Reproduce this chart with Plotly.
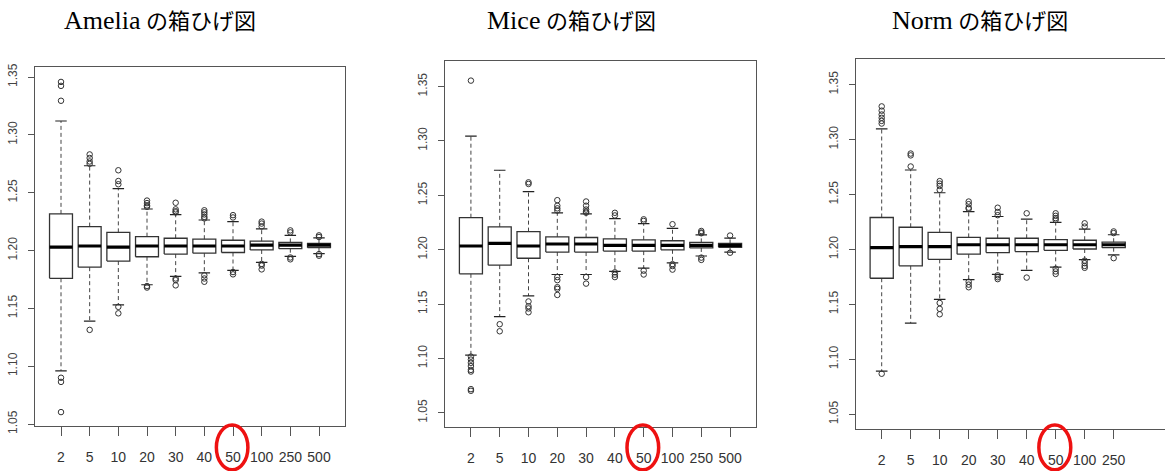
import plotly.graph_objects as go

W, H = 1165, 471

# ---------------- data ----------------
title_names = ["Amelia", "Mice", "Norm"]
title_suffix = "の箱ひげ図"

amelia_labels = ["2", "5", "10", "20", "30", "40", "50", "100", "250", "500"]
amelia_q1 = [1.176, 1.1856, 1.1909, 1.1946, 1.1969, 1.1977, 1.1983, 1.2005, 1.2016, 1.2025]
amelia_med = [1.203, 1.2039, 1.203, 1.2039, 1.2039, 1.2039, 1.2039, 1.2047, 1.2047, 1.2047]
amelia_q3 = [1.2317, 1.2207, 1.2157, 1.212, 1.2106, 1.2098, 1.2089, 1.2081, 1.207, 1.2061]
amelia_lo = [1.096, 1.139, 1.153, 1.1704, 1.1777, 1.1806, 1.1828, 1.1898, 1.1949, 1.1974]
amelia_hi = [1.312, 1.2733, 1.2536, 1.2359, 1.2311, 1.2264, 1.225, 1.2188, 1.2131, 1.2109]
amelia_out = [
    [1.3458, 1.3424, 1.3295, 1.090, 1.0864, 1.0603],
    [1.2831, 1.280, 1.277, 1.275, 1.1314],
    [1.2694, 1.2601, 1.2573, 1.1513, 1.1457],
    [1.2432, 1.241, 1.239, 1.2378, 1.1693, 1.168],
    [1.2413, 1.2356, 1.234, 1.233, 1.1758, 1.1744, 1.1699],
    [1.2348, 1.2331, 1.2312, 1.2291, 1.2278, 1.1786, 1.1758, 1.173],
    [1.2306, 1.2286, 1.1814, 1.1794],
    [1.225, 1.2233, 1.2208, 1.1884, 1.187, 1.1837],
    [1.2174, 1.2157, 1.194, 1.1924],
    [1.2131, 1.2117, 1.1969, 1.1955],
]

mice_labels = ["2", "5", "10", "20", "30", "40", "50", "100", "250", "500"]
mice_q1 = [1.1778, 1.1858, 1.1921, 1.1978, 1.1978, 1.1987, 1.1987, 1.1999, 1.2016, 1.2022]
mice_med = [1.2034, 1.2058, 1.2034, 1.2052, 1.2052, 1.204, 1.204, 1.204, 1.204, 1.204]
mice_q3 = [1.2294, 1.221, 1.2166, 1.2118, 1.2112, 1.21, 1.2091, 1.2082, 1.2067, 1.2058]
mice_lo = [1.1031, 1.1384, 1.1575, 1.1772, 1.1772, 1.1801, 1.1831, 1.1879, 1.1942, 1.1978]
mice_hi = [1.3043, 1.273, 1.2533, 1.2339, 1.233, 1.2285, 1.224, 1.2196, 1.2136, 1.2106]
mice_out = [
    [1.3554, 1.1017, 1.099, 1.096, 1.093, 1.0895, 1.088, 1.0718, 1.0703],
    [1.1315, 1.125],
    [1.2619, 1.2604, 1.1524, 1.148, 1.146, 1.1425],
    [1.2455, 1.2404, 1.238, 1.236, 1.1748, 1.172, 1.1655, 1.164, 1.1584],
    [1.2443, 1.2404, 1.2369, 1.235, 1.234, 1.1748, 1.1688],
    [1.2339, 1.2315, 1.1792, 1.177, 1.1748],
    [1.2279, 1.2264, 1.1807, 1.1772],
    [1.2234, 1.1867, 1.185, 1.1817],
    [1.2172, 1.2158, 1.2151, 1.1927, 1.1906],
    [1.213, 1.1972],
]

norm_labels = ["2", "5", "10", "20", "30", "40", "50", "100", "250"]
norm_q1 = [1.1738, 1.1851, 1.191, 1.1957, 1.1972, 1.1981, 1.1992, 1.2004, 1.2016]
norm_med = [1.2016, 1.2025, 1.2025, 1.2043, 1.2043, 1.2043, 1.2043, 1.2043, 1.2043]
norm_q3 = [1.2291, 1.2202, 1.2155, 1.211, 1.2102, 1.2102, 1.209, 1.2084, 1.2066]
norm_lo = [1.0893, 1.133, 1.1546, 1.1726, 1.1774, 1.1809, 1.1839, 1.1907, 1.1951]
norm_hi = [1.3098, 1.2723, 1.2516, 1.2344, 1.23, 1.2276, 1.2247, 1.2185, 1.2134]
norm_out = [
    [1.3302, 1.3263, 1.3228, 1.3198, 1.317, 1.3146, 1.0869],
    [1.2873, 1.2856, 1.2755],
    [1.2622, 1.2599, 1.2578, 1.2542, 1.1513, 1.146, 1.141],
    [1.2436, 1.2412, 1.238, 1.237, 1.1706, 1.168, 1.1656],
    [1.238, 1.2341, 1.2312, 1.1765, 1.1747, 1.173],
    [1.2329, 1.1744],
    [1.2329, 1.2306, 1.2285, 1.227, 1.1824, 1.18, 1.1777],
    [1.2238, 1.2208, 1.1898, 1.1875, 1.185, 1.1833],
    [1.2164, 1.2149, 1.1921],
]

yticks = [1.05, 1.10, 1.15, 1.20, 1.25, 1.30, 1.35]
highlight = "50"

panels = [
    dict(labels=amelia_labels, q1=amelia_q1, med=amelia_med, q3=amelia_q3,
         lo=amelia_lo, hi=amelia_hi, out=amelia_out),
    dict(labels=mice_labels, q1=mice_q1, med=mice_med, q3=mice_q3,
         lo=mice_lo, hi=mice_hi, out=mice_out),
    dict(labels=norm_labels, q1=norm_q1, med=norm_med, q3=norm_q3,
         lo=norm_lo, hi=norm_hi, out=norm_out),
]

# ---------------- layout geometry (pixels) ----------------
geom = [
    dict(x0=35.2, x1=344.8, y0=65, y1=433, yr=[1.0483, 1.3584], xr=[0.1, 10.9], mirror_y=True, tc=160),
    dict(x0=445, x1=756, y0=58.3, y1=434.3, yr=[1.0368, 1.3736], xr=[0.1, 10.9], mirror_y=True, tc=571),
    dict(x0=855.6, x1=1165, y0=56.7, y1=436, yr=[1.0367, 1.3731], xr=[0.1, 10.77], mirror_y=False, tc=980),
]

FRAME = "#555555"
BOXC = "#333333"
BW = 0.4
CW = 0.2
TICKFONT = "Liberation Sans Narrow, Arial Narrow, Liberation Sans, Arial"

fig = go.Figure()
layout = dict(width=W, height=H, margin=dict(l=0, r=0, t=0, b=0),
              paper_bgcolor="white", plot_bgcolor="white", showlegend=False)
annotations = []
shapes = []

for k, (p, g) in enumerate(zip(panels, geom)):
    sfx = "" if k == 0 else str(k + 1)
    xa, ya = "x" + sfx, "y" + sfx
    n = len(p["labels"])
    pos = list(range(1, n + 1))

    bx, by, mx, my, wx, wy, cx, cy, ox, oy = [], [], [], [], [], [], [], [], [], []
    for i in range(n):
        x = pos[i]
        bx += [x - BW, x + BW, x + BW, x - BW, x - BW, None]
        by += [p["q1"][i], p["q1"][i], p["q3"][i], p["q3"][i], p["q1"][i], None]
        mx += [x - BW, x + BW, None]
        my += [p["med"][i], p["med"][i], None]
        wx += [x, x, None, x, x, None]
        wy += [p["q3"][i], p["hi"][i], None, p["q1"][i], p["lo"][i], None]
        cx += [x - CW, x + CW, None, x - CW, x + CW, None]
        cy += [p["hi"][i], p["hi"][i], None, p["lo"][i], p["lo"][i], None]
        for v in p["out"][i]:
            ox.append(x)
            oy.append(v)

    fig.add_trace(go.Scatter(x=wx, y=wy, mode="lines", xaxis=xa, yaxis=ya,
                             line=dict(color="#444444", width=1, dash="4px,3px"), hoverinfo="skip"))
    fig.add_trace(go.Scatter(x=cx, y=cy, mode="lines", xaxis=xa, yaxis=ya,
                             line=dict(color="#222222", width=1.2), hoverinfo="skip"))
    fig.add_trace(go.Scatter(x=bx, y=by, mode="lines", xaxis=xa, yaxis=ya,
                             line=dict(color=BOXC, width=1.3), hoverinfo="skip"))
    fig.add_trace(go.Scatter(x=mx, y=my, mode="lines", xaxis=xa, yaxis=ya,
                             line=dict(color="black", width=3.2), hoverinfo="skip"))
    fig.add_trace(go.Scatter(x=ox, y=oy, mode="markers", xaxis=xa, yaxis=ya,
                             marker=dict(symbol="circle-open", size=5.5, color="#333333",
                                         line=dict(width=1, color="#333333")),
                             hoverinfo="skip"))

    layout["xaxis" + sfx] = dict(
        domain=[g["x0"] / W, g["x1"] / W], anchor=ya, range=g["xr"],
        tickmode="array", tickvals=pos, ticktext=p["labels"],
        showline=True, mirror=True, linecolor=FRAME, linewidth=1,
        ticks="outside", ticklen=9, tickcolor=FRAME, tickwidth=1,
        showgrid=False, zeroline=False,
        tickfont=dict(family=TICKFONT, size=14, color="#333333"),
        ticklabelstandoff=9,
    )
    layout["yaxis" + sfx] = dict(
        domain=[1 - g["y1"] / H, 1 - g["y0"] / H], anchor=xa, range=g["yr"],
        tickmode="array", tickvals=yticks, ticktext=["%.2f" % v for v in yticks],
        showline=True, mirror=g["mirror_y"], linecolor=FRAME, linewidth=1,
        ticks="outside", ticklen=6, tickcolor=FRAME, tickwidth=1,
        showgrid=False, zeroline=False, tickangle=-90,
        tickfont=dict(family=TICKFONT, size=12, color="#444444"),
        ticklabelstandoff=6,
    )

    annotations.append(dict(
        text="<span style='font-size:26px'>%s</span> %s" % (title_names[k], title_suffix),
        xref="paper", yref="paper", x=g["tc"] / W, y=1 - 17 / H,
        xanchor="center", yanchor="middle", showarrow=False,
        font=dict(family="Liberation Serif, Times New Roman, Noto Sans CJK JP", size=22, color="black"),
    ))

    hx = pos[p["labels"].index(highlight)]
    shapes.append(dict(
        type="circle", xref=xa, yref="paper",
        x0=hx - 0.58, x1=hx + 0.52, y0=1 - 478 / H, y1=1 - 432 / H,
        line=dict(color="#ee1111", width=3.5), fillcolor="rgba(0,0,0,0)",
    ))

layout["annotations"] = annotations
layout["shapes"] = shapes
fig.update_layout(**layout)
fig.write_html("out.html", config={"displayModeBar": False, "staticPlot": True},
               post_script="document.body.style.margin='0';document.body.style.overflow='hidden';")
